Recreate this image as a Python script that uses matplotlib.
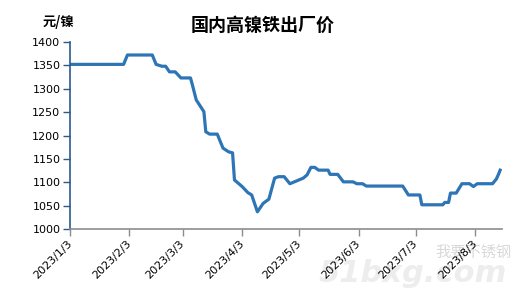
import matplotlib
matplotlib.use("Agg")
import matplotlib.pyplot as plt
import pandas as pd

plt.rcParams['font.family'] = ['DejaVu Sans', 'Noto Sans CJK SC']

# price points (yuan per nickel unit)
dates = ["2023-01-03", "2023-01-31", "2023-02-02", "2023-02-15", "2023-02-17",
         "2023-02-20", "2023-02-22", "2023-02-24", "2023-02-27", "2023-03-02",
         "2023-03-07", "2023-03-08", "2023-03-10", "2023-03-14", "2023-03-15",
         "2023-03-17", "2023-03-21", "2023-03-24", "2023-03-27", "2023-03-29",
         "2023-03-30", "2023-04-03", "2023-04-06", "2023-04-08", "2023-04-11",
         "2023-04-14", "2023-04-17", "2023-04-20", "2023-04-22", "2023-04-25",
         "2023-04-28", "2023-05-05", "2023-05-07", "2023-05-09", "2023-05-11",
         "2023-05-13", "2023-05-18", "2023-05-19", "2023-05-23", "2023-05-26",
         "2023-05-31", "2023-06-02", "2023-06-05", "2023-06-07", "2023-06-26",
         "2023-06-29", "2023-07-05", "2023-07-06", "2023-07-17", "2023-07-18",
         "2023-07-20", "2023-07-21", "2023-07-24", "2023-07-27", "2023-07-31",
         "2023-08-02", "2023-08-04", "2023-08-12", "2023-08-14", "2023-08-15",
         "2023-08-16"]
prices = [1352, 1352, 1372, 1372, 1352,
          1348, 1348, 1336, 1336, 1323,
          1323, 1308, 1276, 1251, 1208,
          1203, 1203, 1173, 1165, 1163,
          1105, 1091, 1078, 1073, 1037,
          1055, 1064, 1109, 1112, 1112,
          1097, 1109, 1116, 1132, 1132,
          1126, 1126, 1117, 1117, 1101,
          1101, 1097, 1097, 1092, 1092,
          1073, 1073, 1052, 1052, 1057,
          1057, 1077, 1077, 1097, 1097,
          1091, 1097, 1097, 1107, 1116,
          1126]

tick_dates = ["2023-01-03", "2023-02-03", "2023-03-03", "2023-04-03",
              "2023-05-03", "2023-06-03", "2023-07-03", "2023-08-03"]
tick_labels = ["2023/1/3", "2023/2/3", "2023/3/3", "2023/4/3",
               "2023/5/3", "2023/6/3", "2023/7/3", "2023/8/3"]

x = pd.to_datetime(dates)

fig = plt.figure(figsize=(5.23, 2.93), dpi=100)
ax = fig.add_axes([0.134, 0.218, 0.826, 0.639])
ax.patch.set_alpha(0)

ax.plot(x, prices, color="#2e75b6", lw=2.3, solid_joinstyle="round")

ax.set_ylim(1000, 1400)
ax.set_yticks(range(1000, 1401, 50))
ax.set_xlim(pd.Timestamp("2023-01-03"), pd.Timestamp("2023-08-17"))
ax.set_xticks(pd.to_datetime(tick_dates))
ax.set_xticklabels(tick_labels, rotation=45, ha="right", va="center",
                   rotation_mode="anchor")

for s in ["top", "right"]:
    ax.spines[s].set_visible(False)
ax.spines["left"].set_color("#2b5a8a")
ax.spines["left"].set_linewidth(1.2)
ax.spines["bottom"].set_color("#8c8c8c")
ax.spines["bottom"].set_linewidth(1.2)
ax.tick_params(axis="y", length=5, width=1, color="#2b5a8a", labelsize=8, pad=2)
ax.tick_params(axis="x", length=5, width=1, color="#8c8c8c", labelsize=8, pad=4)

fig.text(0.503, 0.912, "国内高镍铁出厂价", ha="center", va="center",
         fontsize=13, fontweight="bold", family=["Noto Sans CJK SC", "DejaVu Sans"])
fig.text(0.111, 0.925, "元/镍", ha="center", va="center",
         fontsize=9.5, fontweight="bold", family=["Noto Sans CJK SC", "DejaVu Sans"])

# faint watermark behind the axes
fig.text(0.905, 0.137, "我要不锈钢", ha="center", va="center", fontsize=11,
         color="#d9d9d9", family=["Noto Sans CJK SC", "DejaVu Sans"], zorder=-1)
fig.text(0.79, 0.065, "51bxg.com", ha="center", va="center", fontsize=22,
         fontweight="bold", fontstyle="italic", color="#ededed", zorder=-1)

fig.savefig("out.png", dpi=100)
